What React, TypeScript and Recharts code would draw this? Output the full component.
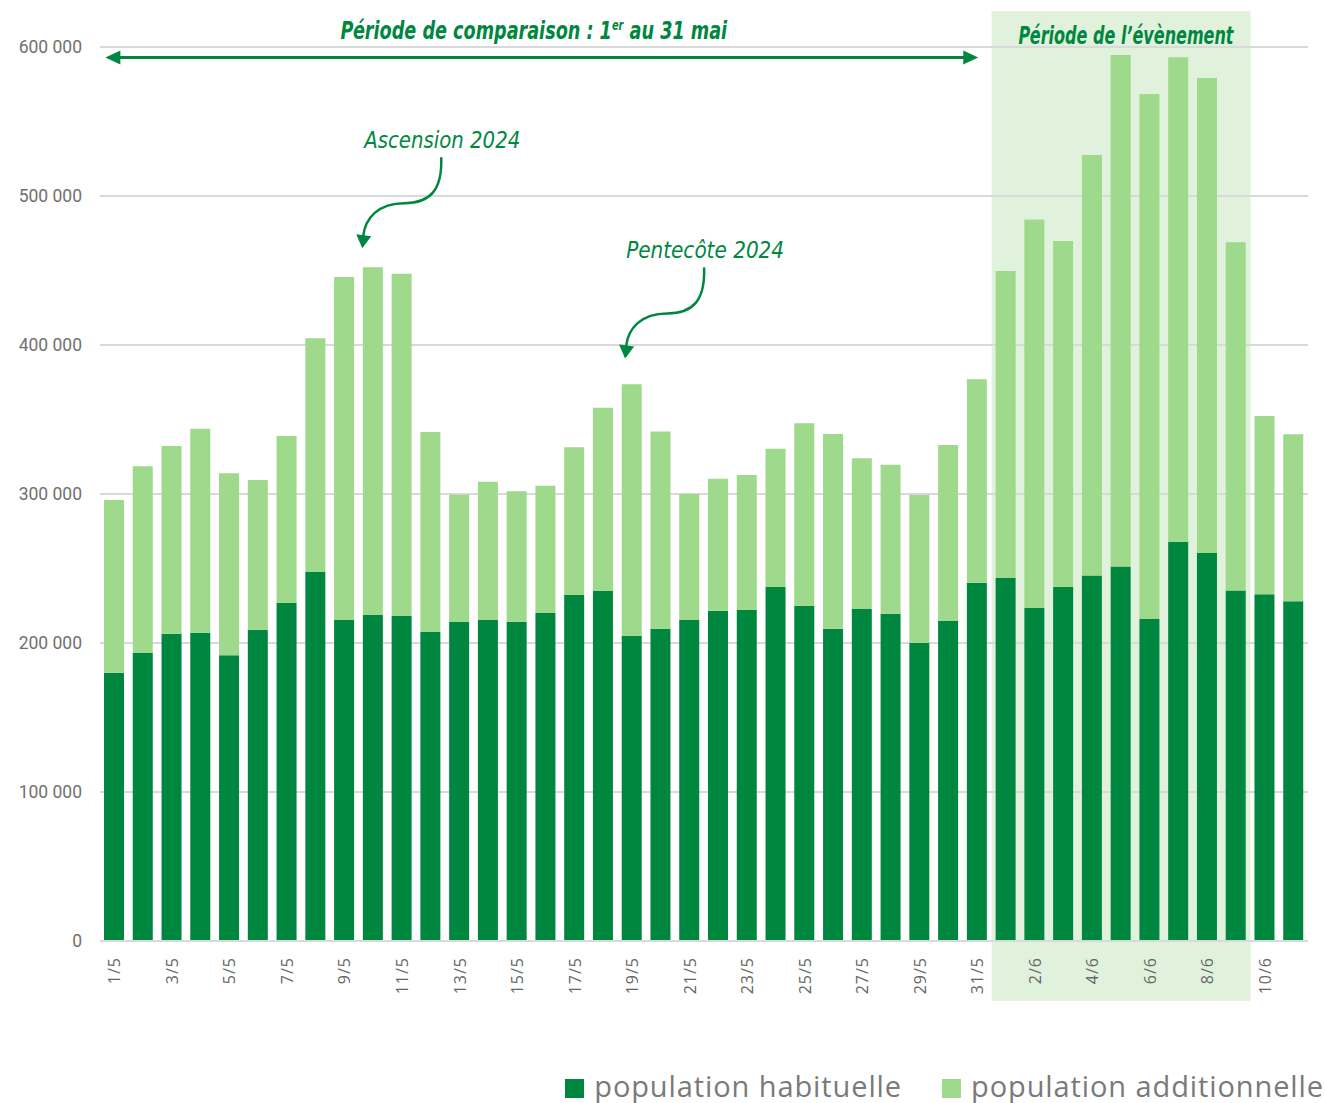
import React from 'react';
import {
  BarChart, Bar, XAxis, YAxis, CartesianGrid, Legend,
  ReferenceArea, ReferenceLine, ReferenceDot, Label,
} from 'recharts';

const categories = [
  '1/5', '2/5', '3/5', '4/5', '5/5', '6/5', '7/5', '8/5', '9/5', '10/5',
  '11/5', '12/5', '13/5', '14/5', '15/5', '16/5', '17/5', '18/5', '19/5', '20/5',
  '21/5', '22/5', '23/5', '24/5', '25/5', '26/5', '27/5', '28/5', '29/5', '30/5',
  '31/5', '1/6', '2/6', '3/6', '4/6', '5/6', '6/6', '7/6', '8/6', '9/6',
  '10/6', '11/6',
];

const habituelle = [
  180000, 193300, 206200, 206900, 191700, 208900, 226800, 247700, 215400, 218800,
  218100, 207400, 214100, 215400, 214300, 220100, 232200, 234900, 204900, 209600,
  215400, 221700, 222100, 237600, 224800, 209600, 222800, 219700, 200000, 214800,
  240500, 243700, 223500, 237600, 245300, 251400, 216100, 267900, 260400, 235300,
  232800, 228000,
];

const additionnelle = [
  116000, 125300, 126000, 136900, 122200, 100500, 112100, 156800, 230200, 233300,
  229800, 134200, 85400, 92900, 87500, 85500, 99100, 123000, 168700, 132400,
  84600, 88600, 90700, 92800, 122600, 130700, 101200, 100000, 99300, 118100,
  136500, 206000, 260800, 232200, 282200, 343200, 352400, 325200, 318800, 233600,
  119500, 112100,
];

const yTicks = [0, 100000, 200000, 300000, 400000, 500000, 600000];

const seriesNames = ['population habituelle', 'population additionnelle'];

const data = categories.map((c, i) => ({
  date: c,
  habituelle: habituelle[i],
  additionnelle: additionnelle[i],
}));

const GREEN = '#00873f';
const DARK = '#00873f';
const LIGHT = '#9ed98c';
const SHADE = '#e0f2dc';
const HAND = "'Liberation Sans Narrow', 'DejaVu Sans Condensed', 'Noto Sans', sans-serif";

const fmt = (v: number) => {
  if (v === 0) return '0';
  const s = String(v);
  return s.replace(/\B(?=(\d{3})+(?!\d))/g, ' ');
};

// Text that is horizontally scaled to a target width (handwritten look substitute)
const FitText = ({ x, y, width, children, ...rest }: any) => {
  const ref = React.useRef<SVGTextElement>(null);
  const [s, setS] = React.useState(1);
  React.useLayoutEffect(() => {
    const el = ref.current;
    if (el) {
      const w = el.getBBox().width;
      if (w > 0) {
        const ns = width / w;
        if (Math.abs(ns - s) > 0.002) setS(ns);
      }
    }
  });
  return (
    <text
      ref={ref}
      transform={`translate(${x} ${y}) scale(${s} 1)`}
      x={0}
      y={0}
      textAnchor="middle"
      {...rest}
    >
      {children}
    </text>
  );
};

const XTick = (props: any) => {
  const { x, y, payload } = props;
  return (
    <text
      x={x}
      y={y}
      transform={`rotate(-90 ${x} ${y})`}
      textAnchor="end"
      dominantBaseline="central"
      fill="#666666"
      fontSize={16}
      letterSpacing={1}
      fontFamily="'Open Sans', sans-serif"
    >
      {payload.value}
    </text>
  );
};

const YTick = (props: any) => {
  const { x, y, payload } = props;
  return (
    <text
      x={x}
      y={y}
      textAnchor="end"
      dominantBaseline="central"
      fill="#707070"
      fontSize={17.5}
      fontFamily="Roboto, sans-serif"
    >
      {fmt(payload.value)}
    </text>
  );
};

const PeriodArrow = (props: any) => {
  const { x1, y1, x2, y2 } = props;
  const left = x1 - 9;
  const right = x2 + 1;
  const mid = (left + right) / 2 - 8;
  return (
    <g>
      <line x1={left + 10} y1={y1} x2={right - 10} y2={y2} stroke={GREEN} strokeWidth={3} />
      <polygon points={`${left},${y1} ${left + 15},${y1 - 7} ${left + 15},${y1 + 7}`} fill={GREEN} />
      <polygon points={`${right},${y2} ${right - 15},${y2 - 7} ${right - 15},${y2 + 7}`} fill={GREEN} />
      <FitText
        x={mid}
        y={y1 - 18}
        width={387}
        fill={GREEN}
        fontFamily={HAND}
        fontStyle="italic"
        fontWeight="bold"
        fontSize={25}
      >
        Période de comparaison : 1<tspan fontSize={14} dy={-9}>er</tspan><tspan dy={9}> au 31 mai</tspan>
      </FitText>
    </g>
  );
};

const makeCurvedNote = (text: string, dx: number) => (props: any) => {
  const { cx, cy } = props;
  const tx = cx + dx;
  const ty = cy;
  const path = `M ${tx + 79} ${ty - 90} C ${tx + 80} ${ty - 58} ${tx + 68} ${ty - 45} ${tx + 42} ${ty - 45} C ${tx + 16} ${ty - 45} ${tx + 3} ${ty - 30} ${tx + 1} ${ty - 12}`;
  return (
    <g>
      <path d={path} fill="none" stroke={GREEN} strokeWidth={2.5} strokeLinecap="round" />
      <polygon points={`${tx},${ty} ${tx - 6},${ty - 14} ${tx + 9},${ty - 12}`} fill={GREEN} />
      <FitText
        x={tx + 80}
        y={ty - 100}
        width={158}
        fill={GREEN}
        fontFamily={HAND}
        fontStyle="italic"
        fontSize={23}
      >
        {text}
      </FitText>
    </g>
  );
};

const AscensionNote = makeCurvedNote('Ascension 2024', -11);
const PentecoteNote = makeCurvedNote('Pentecôte 2024', -7);

const EventLabel = (props: any) => {
  const vb = props.viewBox || {};
  const cx = vb.x + vb.width / 2 + 5;
  return (
    <FitText
      x={cx}
      y={vb.y + 33}
      width={216}
      fill={GREEN}
      fontFamily={HAND}
      fontStyle="italic"
      fontWeight="bold"
      fontSize={25}
    >
      Période de l’évènement
    </FitText>
  );
};

const seriesColors = [DARK, LIGHT];

const LegendContent = () => {
  const items = seriesNames.map((n, i) => ({ name: n, color: seriesColors[i] }));
  return (
    <div
      style={{
        display: 'flex',
        justifyContent: 'flex-end',
        alignItems: 'center',
        height: 50,
        paddingTop: 16,
        boxSizing: 'border-box',
        paddingRight: 2,
        fontFamily: "'Open Sans', sans-serif",
        fontSize: 29,
        lineHeight: '34px',
        color: '#7a7a7a',
        letterSpacing: 0.9,
      }}
    >
      {items.map((it, i) => (
        <div key={i} style={{ display: 'flex', alignItems: 'center', marginLeft: i === 0 ? 0 : 40 }}>
          <span style={{ display: 'inline-block', width: 19, height: 19, background: it.color, marginRight: 10, marginTop: 4 }} />
          <span>{it.name}</span>
        </div>
      ))}
    </div>
  );
};

export default function App() {
  return (
    <div style={{ width: 1326, height: 1103, position: 'relative', background: '#fff' }}>
      <style>{'body{margin:0;background:#fff;}'}</style>
      <BarChart
        width={1326}
        height={1103}
        data={data}
        margin={{ top: 47, right: 18, left: 0, bottom: 0 }}
        barSize={20}
      >
        <ReferenceArea
          x1="1/6"
          x2="9/6"
          y1={-40300}
          y2={624200}
          ifOverflow="visible"
          fill={SHADE}
          fillOpacity={1}
          stroke="none"
          zIndex={-200}
        >
          <Label content={EventLabel} />
        </ReferenceArea>
        <CartesianGrid vertical={false} stroke="#d9d9d9" strokeWidth={2} />
        <XAxis
          dataKey="date"
          interval={1}
          height={112}
          tickSize={0}
          tickMargin={16}
          tickLine={false}
          axisLine={{ stroke: '#d9d9d9', strokeWidth: 2 }}
          tick={<XTick />}
        />
        <YAxis
          width={100}
          domain={[0, 600000]}
          ticks={yTicks}
          tickSize={0}
          tickMargin={18}
          tickLine={false}
          axisLine={false}
          tick={<YTick />}
        />
        <Legend
          verticalAlign="bottom"
          content={LegendContent}
          wrapperStyle={{ left: 0, width: 1326, bottom: 0 }}
        />
        <Bar dataKey="habituelle" name={seriesNames[0]} stackId="a" fill={DARK} isAnimationActive={false} />
        <Bar dataKey="additionnelle" name={seriesNames[1]} stackId="a" fill={LIGHT} isAnimationActive={false} />
        <ReferenceLine
          segment={[{ x: '1/5', y: 593000 }, { x: '31/5', y: 593000 }]}
          ifOverflow="visible"
          shape={PeriodArrow}
        />
        <ReferenceDot x="10/5" y={465000} ifOverflow="visible" shape={AscensionNote} />
        <ReferenceDot x="19/5" y={391000} ifOverflow="visible" shape={PentecoteNote} />
      </BarChart>
    </div>
  );
}
